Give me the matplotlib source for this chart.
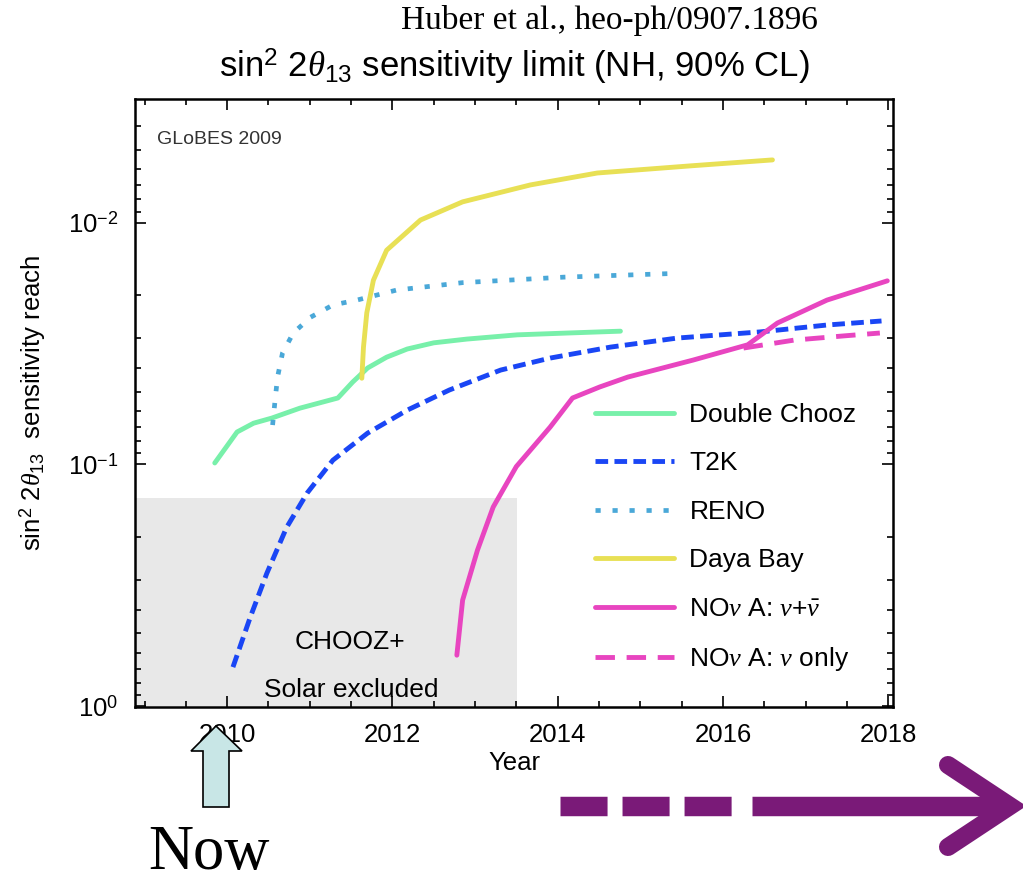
import numpy as np
import matplotlib
matplotlib.use("Agg")
from matplotlib import pyplot as plt
from matplotlib.lines import Line2D
from matplotlib.patches import Polygon
from matplotlib.ticker import FixedLocator, LogLocator, NullFormatter, FuncFormatter

plt.rcParams['font.family'] = ['Liberation Sans', 'DejaVu Sans']
plt.rcParams['mathtext.fontset'] = 'custom'
plt.rcParams['mathtext.rm'] = 'Liberation Sans'
plt.rcParams['mathtext.it'] = 'Liberation Serif:italic'

# sensitivity curves (year, sin^2 2theta13 reach)
dc_year = [2009.85, 2010.12, 2010.32, 2010.54, 2010.88, 2011.34, 2011.52, 2011.70, 2011.93,
           2012.18, 2012.50, 2012.90, 2013.51, 2014.12, 2014.76]
dc_val = [0.0986, 0.0734, 0.0675, 0.0643, 0.0585, 0.0531, 0.0456, 0.0399, 0.0360,
          0.0333, 0.0314, 0.0303, 0.0291, 0.0286, 0.0281]

t2k_year = [2010.07, 2010.28, 2010.48, 2010.72, 2010.97, 2011.28, 2011.70, 2012.18, 2012.69,
            2013.31, 2013.91, 2014.64, 2015.45, 2016.45, 2017.26, 2017.92]
t2k_val = [0.689, 0.428, 0.282, 0.182, 0.131, 0.096, 0.0742, 0.0596, 0.0492,
           0.0407, 0.0363, 0.0327, 0.0300, 0.0283, 0.0265, 0.0255]

reno_year = [2010.55, 2010.58, 2010.61, 2010.67, 2010.80, 2011.01, 2011.28, 2011.57, 2012.05,
             2012.85, 2014.07, 2015.45]
reno_val = [0.0687, 0.0542, 0.0435, 0.0346, 0.0286, 0.0246, 0.0219, 0.0209, 0.0190,
            0.0177, 0.0168, 0.0162]

daya_year = [2011.63, 2011.65, 2011.69, 2011.77, 2011.93, 2012.34, 2012.85, 2013.67, 2014.48,
             2015.61, 2016.60]
daya_val = [0.0440, 0.0327, 0.0236, 0.0173, 0.0130, 0.00975, 0.0082, 0.00698, 0.00623,
            0.00582, 0.0055]

nova_year = [2012.78, 2012.85, 2013.03, 2013.22, 2013.50, 2013.91, 2014.18, 2014.51, 2014.85,
             2015.64, 2016.30, 2016.66, 2017.26, 2017.99]
nova_val = [0.615, 0.364, 0.226, 0.150, 0.102, 0.070, 0.0531, 0.0478, 0.0435,
            0.0370, 0.0320, 0.0260, 0.0209, 0.0174]

nova_nu_year = [2016.25, 2016.86, 2017.46, 2017.90]
nova_nu_val = [0.0330, 0.0306, 0.0294, 0.0286]

chooz_limit = 0.137
chooz_end = 2013.51

year_ticks = [2010, 2012, 2014, 2016, 2018]
reach_ticks = [1e-2, 1e-1, 1e0]

fig = plt.figure(figsize=(10.23, 8.83), dpi=100)
ax = fig.add_axes([0.132, 0.199, 0.741, 0.689])

ax.fill_between([2008.5, chooz_end], chooz_limit, 1.0, color='#E8E8E8', lw=0, zorder=0)
ax.text(2011.49, 0.543, 'CHOOZ+', ha='center', va='center', fontsize=19)
ax.text(2011.50, 0.86, 'Solar excluded', ha='center', va='center', fontsize=19)

ax.plot(dc_year, dc_val, color='#78F0AA', lw=3.5, solid_capstyle='round', label='Double Chooz')
ax.plot(t2k_year, t2k_val, color='#1A46F5', lw=3.5, dashes=(2.6, 1.3), label='T2K')
ax.plot(reno_year, reno_val, color='#4AA8D8', lw=3.4, dashes=(1.1, 2.5), label='RENO')
ax.plot(daya_year, daya_val, color='#E8E055', lw=3.5, solid_capstyle='round', label='Daya Bay')
ax.plot(nova_year, nova_val, color='#E845C0', lw=3.5, solid_capstyle='round',
        label=r'NO$\nu$ A: $\nu$+$\bar{\nu}$')
ax.plot(nova_nu_year, nova_nu_val, color='#E845C0', lw=3.5, dashes=(4, 2.4),
        label=r'NO$\nu$ A: $\nu$ only')

ax.set_yscale('log')
ax.set_xlim(2008.885, 2018.06)
ax.set_ylim(1.01, 10 ** -2.512)

ax.xaxis.set_major_locator(FixedLocator(year_ticks))
ax.xaxis.set_minor_locator(FixedLocator(np.arange(2009, 2018.1, 0.5)))
ax.yaxis.set_major_locator(FixedLocator(reach_ticks))
ax.yaxis.set_minor_locator(LogLocator(base=10, subs=np.arange(2, 10)))
ax.yaxis.set_minor_formatter(NullFormatter())
ax.yaxis.set_major_formatter(FuncFormatter(lambda v, p: r'10$^{%d}$' % round(np.log10(v))))
ax.tick_params(which='both', direction='in', top=True, right=True, width=1.2)
ax.tick_params(which='major', length=8, labelsize=18.5)
ax.tick_params(axis='x', which='major', pad=11)
ax.tick_params(axis='y', which='major', pad=12)
ax.tick_params(which='minor', length=4)
for s in ax.spines.values():
    s.set_linewidth(1.8)

ax.set_xlabel('Year', fontsize=18.5, labelpad=3)
ax.set_ylabel(r'sin$^2$ 2$\theta_{13}$  sensitivity reach', fontsize=18.5, labelpad=14)
ax.set_title(r'sin$^2$ 2$\theta_{13}$ sensitivity limit (NH, 90% CL)', fontsize=25, pad=15)
ax.text(0.029, 0.933, 'GLoBES 2009', transform=ax.transAxes, fontsize=14, color='#333333',
        va='center')

ax.legend(loc='upper left', bbox_to_anchor=(0.607, 0.5005), frameon=False, fontsize=19,
          handlelength=3.0, handletextpad=0.57, labelspacing=0.93, borderpad=0, borderaxespad=0)

fig.text(0.596, 0.977, 'Huber et al., heo-ph/0907.1896', family='Liberation Serif',
         fontsize=24, ha='center', va='center')

# "Now" marker below the 2010 tick
up = np.array([[203, 807], [229, 807], [229, 751], [242, 751], [216, 726], [191, 751], [203, 751]],
              dtype=float)
up[:, 0] /= 1023
up[:, 1] = 1 - up[:, 1] / 883
fig.add_artist(Polygon(up, closed=True, transform=fig.transFigure, facecolor='#C8E6E6',
                       edgecolor='black', lw=1.2))
fig.text(209 / 1023, 14 / 883, 'Now', family='Liberation Serif', fontsize=45, ha='center',
         va='baseline')

# purple "future" arrow
purple = '#7A1A78'
fig.add_artist(Line2D([560 / 1023, 738 / 1023], [1 - 806 / 883] * 2, transform=fig.transFigure,
                      color=purple, lw=14, dashes=(2.42, 0.77), solid_capstyle='butt'))
fig.add_artist(Line2D([752 / 1023, 1005 / 1023], [1 - 806 / 883] * 2, transform=fig.transFigure,
                      color=purple, lw=14, solid_capstyle='butt'))
fig.add_artist(Line2D([948 / 1023, 1010 / 1023, 948 / 1023],
                      [1 - 765 / 883, 1 - 806 / 883, 1 - 847 / 883], transform=fig.transFigure,
                      color=purple, lw=13, solid_capstyle='round', solid_joinstyle='miter'))

fig.savefig('out.png', dpi=100)
